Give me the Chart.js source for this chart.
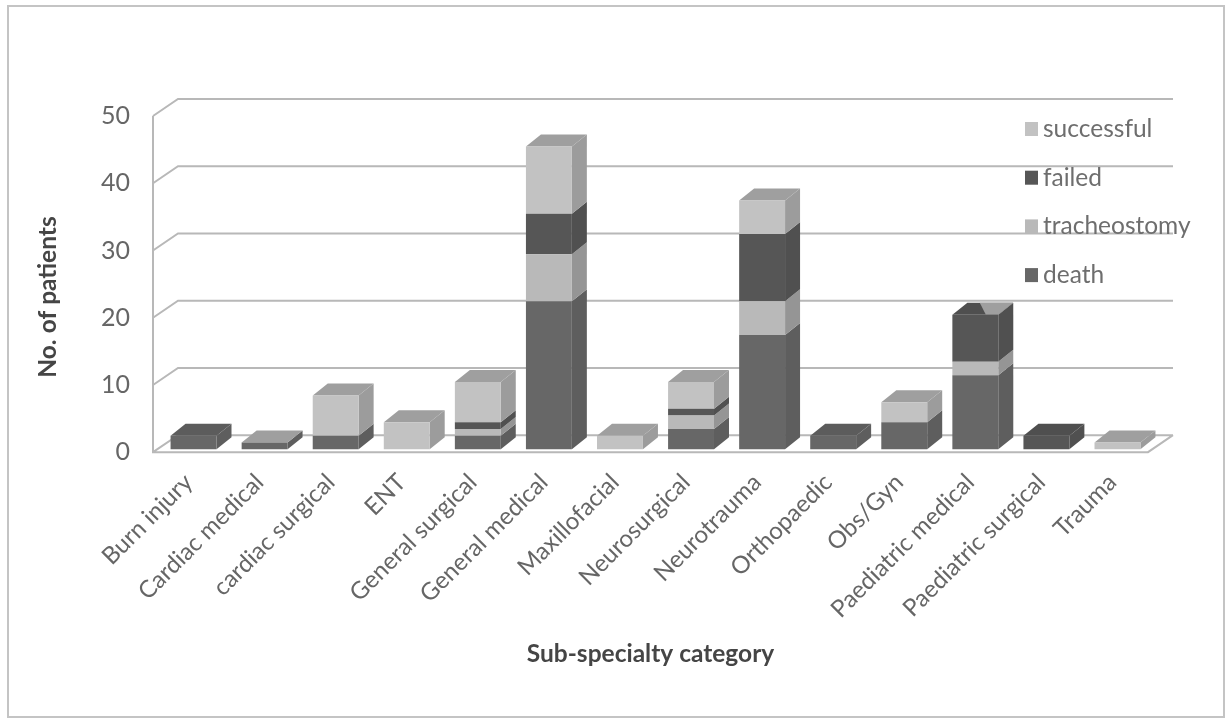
<!DOCTYPE html>
<html>
<head>
<meta charset="utf-8">
<style>
  html, body { margin:0; padding:0; background:#fff; }
  #wrap { position:absolute; left:0; top:0; width:1230px; height:720px; overflow:hidden; }
  #frame { position:absolute; left:7px; top:5px; width:1214px; height:709px; border:2px solid #c4c4c4; }
</style>
<script src="https://cdn.jsdelivr.net/npm/chart.js@4"></script>
</head>
<body>
<div id="wrap">
  <div id="frame"></div>
  <canvas id="c1" width="1230" height="720" style="position:absolute;left:0;top:0"></canvas>
</div>
<script>
const categories = ['Burn injury','Cardiac medical','cardiac surgical','ENT','General surgical','General medical','Maxillofacial','Neurosurgical','Neurotrauma','Orthopaedic','Obs/Gyn','Paediatric medical','Paediatric surgical','Trauma'];
const death        = [2, 1, 2, null, 2, 22, null, 3, 17, 2, 4, 11, null, null];
const tracheostomy = [null, null, null, null, 1, 7, null, 2, 5, null, null, 2, null, null];
const failed       = [null, null, null, null, 1, 6, null, 1, 10, null, null, 7, 2, null];
const successful   = [null, 0, 6, 4, 6, 10, 2, 4, 5, null, 3, null, null, 1];
const yTicks = [0, 10, 20, 30, 40, 50];
const xTitle = 'Sub-specialty category';
const yTitle = 'No. of patients';

// front, side and top shades per series
const deathCol = ['#676767', '#5e5e5e', '#5c5c5c'];
const trachCol = ['#b9b9b9', '#959595', '#a3a3a3'];
const failCol  = ['#565656', '#505050', '#4f4f4f'];
const succCol  = ['#c2c2c2', '#9c9c9c', '#9f9f9f'];

// depth of the floor and walls, and of each bar
const WALL = { dx: 25, dy: -17 };
const BAR = { dx: 15, dy: -12 };
const SHIFT = { x: 5, y: -3 };
const GRID = '#b8b8b8';
const FONT = 'Lato';

function poly(ctx, pts, fill) {
  ctx.beginPath();
  pts.forEach((p, i) => i ? ctx.lineTo(p[0], p[1]) : ctx.moveTo(p[0], p[1]));
  ctx.closePath();
  ctx.fillStyle = fill;
  ctx.fill();
}

const box3d = {
  id: 'box3d',
  beforeDatasetsDraw(chart) {
    const ctx = chart.ctx, a = chart.chartArea, y = chart.scales.y;
    // walls and floor
    ctx.save();
    ctx.strokeStyle = GRID;
    ctx.lineWidth = 2;
    ctx.beginPath();
    yTicks.forEach(t => {
      const py = y.getPixelForValue(t);
      ctx.moveTo(a.left, py);
      ctx.lineTo(a.left + WALL.dx, py + WALL.dy);
      ctx.lineTo(a.right + WALL.dx, py + WALL.dy);
    });
    ctx.moveTo(a.left, y.getPixelForValue(50));
    ctx.lineTo(a.left, y.getPixelForValue(0));
    ctx.lineTo(a.right, y.getPixelForValue(0));
    ctx.lineTo(a.right + WALL.dx, y.getPixelForValue(0) + WALL.dy);
    ctx.stroke();
    ctx.restore();

    // move bars off the front plane, then draw their sides and tops
    ctx.save();
    ctx.translate(SHIFT.x, SHIFT.y);
    categories.forEach((c, i) => {
      let top = null;
      chart.data.datasets.forEach((ds, d) => {
        if (ds.data[i] === null) return;
        const el = chart.getDatasetMeta(d).data[i];
        const r = el.x + el.width / 2;
        poly(ctx, [[r, el.y], [r + BAR.dx, el.y + BAR.dy], [r + BAR.dx, el.base + BAR.dy], [r, el.base]], ds.shades[1]);
        top = { el, ds };
      });
      if (top) {
        const e = top.el, l = e.x - e.width / 2, r = e.x + e.width / 2;
        poly(ctx, [[l, e.y], [l + BAR.dx, e.y + BAR.dy], [r + BAR.dx, e.y + BAR.dy], [r, e.y]], top.ds.shades[2]);
        // paediatric medical shows a lighter patch on its dark lid
        if (c === 'Paediatric medical') {
          poly(ctx, [[l + BAR.dx + e.width * .27, e.y + BAR.dy], [r + BAR.dx, e.y + BAR.dy], [r, e.y], [l + e.width * .73, e.y]], succCol[2]);
        }
      }
    });
  },
  afterDatasetsDraw(chart) {
    chart.ctx.restore();
  },
  afterDraw(chart) {
    const ctx = chart.ctx;
    ctx.save();
    // legend, top series first, floating over the back wall
    ctx.font = '24.5px ' + FONT;
    ctx.textBaseline = 'middle';
    ctx.textAlign = 'left';
    [...chart.data.datasets].reverse().forEach((ds, i) => {
      const ly = 129 + i * 48.7;
      ctx.fillStyle = ds.shades[0];
      ctx.fillRect(1025, ly - 7, 13, 14);
      ctx.fillStyle = '#6e6e6e';
      ctx.fillText(ds.label, 1043, ly);
    });
    // value axis title sits a little below the middle of the axis
    ctx.fillStyle = '#454545';
    ctx.font = 'bold 24.5px ' + FONT;
    ctx.translate(48, 297);
    ctx.rotate(-Math.PI / 2);
    ctx.textAlign = 'center';
    ctx.fillText(yTitle, 0, 0);
    ctx.restore();
  }
};

const mk = (label, data, shades) => ({ label, data, shades, backgroundColor: shades[0], clip: false, borderWidth: 0 });

new Chart(document.getElementById('c1').getContext('2d'), {
  type: 'bar',
  data: {
    labels: categories,
    datasets: [
      mk('death', death, deathCol),
      mk('tracheostomy', tracheostomy, trachCol),
      mk('failed', failed, failCol),
      mk('successful', successful, succCol)
    ]
  },
  options: {
    responsive: false,
    animation: false,
    barPercentage: 0.646,
    categoryPercentage: 1,
    layout: { padding: { left: 86, top: 116, right: 82, bottom: 47 } },
    plugins: {
      tooltip: { enabled: false },
      legend: { display: false }
    },
    scales: {
      x: {
        stacked: true,
        grid: { display: false },
        border: { display: false },
        ticks: {
          minRotation: 45,
          maxRotation: 45,
          color: '#666',
          padding: 8,
          font: { family: FONT, size: 24 }
        },
        title: { display: true, text: xTitle, color: '#454545', font: { family: FONT, size: 24.5, weight: 'bold' }, padding: { top: 8 } }
      },
      y: {
        stacked: true,
        min: 0,
        max: 50,
        afterBuildTicks(ax) { ax.ticks = yTicks.map(v => ({ value: v })); },
        grid: { display: false },
        border: { display: false },
        ticks: { color: '#666', padding: 15, font: { family: FONT, size: 25 } }
      }
    }
  },
  plugins: [box3d]
});
</script>
</body>
</html>
